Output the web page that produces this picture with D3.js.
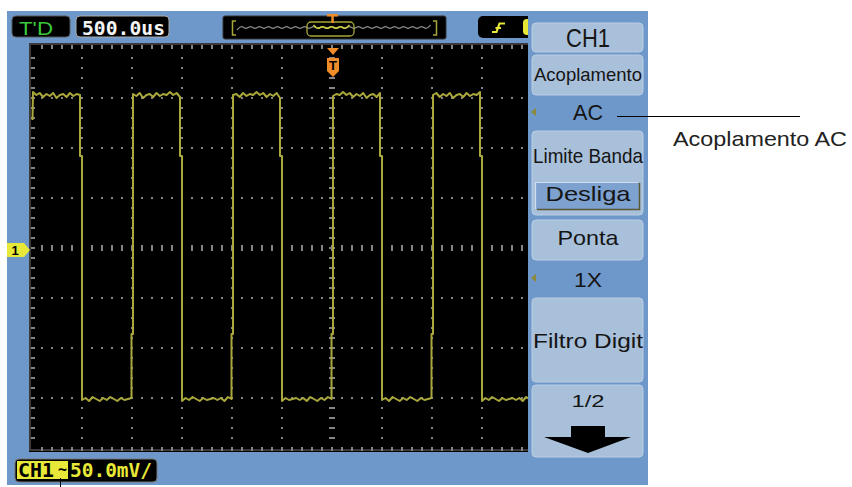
<html>
<head>
<script src="https://d3js.org/d3.v7.min.js"></script>
<style>
  body { margin: 0; background: #fff; }
  text { font-family: "Liberation Sans", Arial, sans-serif; }
  .mono { font-family: "DejaVu Sans Mono", monospace; font-weight: bold; }
</style>
</head>
<body>
<script>
// trace data: times in ms (trigger at 0), levels in mV
var riseTimes = [-3.0, -2.0, -1.0, 0.0, 1.0];
var fallTimes = [-2.5, -1.5, -0.5, 0.5, 1.5];
var traceEnd = 1.98;
var highLevel = 152;
var lowLevel = -150;
var fallKink = 92;     // small step seen on the falling edges
var riseKink = -86;    // small step seen on the rising edges
var startLevel = 128;  // trace enters the screen half way up the first edge
var highRipple = [4, 1, 3, -1, 2, 0, 3, -2, 1, 2, -1, 3, 0, 2, 1];
var lowRipple = [-2, 0, -3, 1, -1, -3, 0, -2, 1, -1, -3, 0, -2, -1, 0];

// screen labels
var timeBase = "500.0us";
var runLabel = "T'D";
var chLabel = "CH1";
var voltsDiv = "50.0mV/";
var menuLabels = ["CH1", "Acoplamento", "AC", "Limite Banda", "Desliga", "Ponta", "1X", "Filtro Digit", "1/2"];
var calloutLabel = "Acoplamento AC";

var bezel = "#6f98ca", boxFill = "#a9c0da", traceColor = "#aaa83c",
    yellow = "#e8e838", orange = "#f08c2a", dotColor = "#858585";

var svg = d3.select("body").append("svg")
  .attr("width", 852)
  .attr("height", 487);

// scope bezel
svg.append("rect").attr("x", 7).attr("y", 11).attr("width", 641).attr("height", 474).attr("fill", bezel);

// scales: 12 x 0.5 ms divisions, 8 x 50 mV divisions
var x = d3.scaleLinear().domain([-3, 3]).range([32, 632]);
var y = d3.scaleLinear().domain([-200, 200]).range([448, 48]);

// black screen
svg.append("rect").attr("x", 29).attr("y", 43).attr("width", 500).attr("height", 409).attr("fill", "#000");
svg.append("defs").append("clipPath").attr("id", "scr")
  .append("rect").attr("x", 29).attr("y", 43).attr("width", 499).attr("height", 409);

var grid = svg.append("g").attr("clip-path", "url(#scr)");

grid.append("rect")
  .attr("x", 30).attr("y", 44).attr("width", 620).attr("height", 406)
  .attr("fill", "none").attr("stroke", "#3a3a3a").attr("stroke-width", 2);

var minorT = d3.range(-29, 30).map(function (i) { return i / 10; });
var minorV = d3.range(-19, 20).map(function (i) { return i * 10; });
var majorT = d3.range(-5, 6).filter(function (i) { return i != 0; }).map(function (i) { return i / 2; });
var majorV = [-150, -100, -50, 50, 100, 150];

// dotted division lines
majorT.forEach(function (t) {
  minorV.forEach(function (v) {
    grid.append("rect").attr("x", x(t) - 1).attr("y", y(v) - 1)
      .attr("width", 2).attr("height", 2).attr("fill", dotColor);
  });
});
majorV.forEach(function (v) {
  minorT.forEach(function (t) {
    grid.append("rect").attr("x", x(t) - 1).attr("y", y(v) - 1)
      .attr("width", 2).attr("height", 2).attr("fill", dotColor);
  });
});

// centre axes with ticks
minorT.forEach(function (t) {
  grid.append("rect").attr("x", x(t) - 1).attr("y", y(0) - 3).attr("width", 2).attr("height", 6).attr("fill", dotColor);
  grid.append("rect").attr("x", x(t) - 1).attr("y", 45).attr("width", 2).attr("height", 4).attr("fill", dotColor);
  grid.append("rect").attr("x", x(t) - 1).attr("y", 447).attr("width", 2).attr("height", 4).attr("fill", dotColor);
});
minorV.forEach(function (v) {
  grid.append("rect").attr("x", x(0) - 3).attr("y", y(v) - 1).attr("width", 6).attr("height", 2).attr("fill", dotColor);
  grid.append("rect").attr("x", 31).attr("y", y(v) - 1).attr("width", 4).attr("height", 2).attr("fill", dotColor);
});

// build the trace from the edge lists
var pts = [];
riseTimes.forEach(function (r, i) {
  var f = fallTimes[i];
  var next = i + 1 < riseTimes.length ? riseTimes[i + 1] : traceEnd;
  if (i == 0) {
    pts.push([r + 0.005, startLevel]);
  } else {
    pts.push([r - 0.005, riseKink]);
    pts.push([r + 0.01, riseKink]);
  }
  var a = r + 0.01, b = f - 0.02;
  highRipple.forEach(function (d, k) {
    var rv = highRipple[(k + i * 4) % highRipple.length];
    pts.push([a + (b - a) * k / (highRipple.length - 1), highLevel + rv]);
  });
  pts.push([f - 0.02, fallKink]);
  pts.push([f, fallKink]);
  var c = f, e = next - 0.005;
  lowRipple.forEach(function (d, k) {
    var rv = lowRipple[(k + i * 5) % lowRipple.length];
    pts.push([c + (e - c) * k / (lowRipple.length - 1), lowLevel + rv]);
  });
});

var line = d3.line().x(function (d) { return x(d[0]); }).y(function (d) { return y(d[1]); });
grid.append("path").datum(pts)
  .attr("fill", "none").attr("stroke", traceColor).attr("stroke-width", 2)
  .attr("stroke-linejoin", "round").attr("d", line);

// trigger position marker on the grid
svg.append("path").attr("d", "M327,48 L339,48 L333,55 Z").attr("fill", orange);
svg.append("path").attr("d", "M327,58 L339,58 L339,71 L333,77 L327,71 Z").attr("fill", orange);
svg.append("text").attr("x", 333).attr("y", 70).attr("text-anchor", "middle")
  .attr("font-size", 13).attr("font-weight", "bold").attr("fill", "#000").text("T");

// channel 1 ground marker
svg.append("path").attr("d", "M7,243 L24,243 L30,250 L24,257 L7,257 Z").attr("fill", yellow);
svg.append("text").attr("x", 15).attr("y", 255).attr("text-anchor", "middle")
  .attr("font-size", 13).attr("font-weight", "bold").attr("fill", "#000").text("1");

// top status bar
svg.append("rect").attr("x", 12).attr("y", 16).attr("width", 58).attr("height", 21).attr("rx", 4)
  .attr("fill", "#000").attr("stroke", "#555");
svg.append("text").attr("x", 19).attr("y", 35).attr("font-size", 19).attr("fill", "#3cc83c")
  .attr("textLength", 34).attr("lengthAdjust", "spacingAndGlyphs").text(runLabel);
svg.append("rect").attr("x", 76).attr("y", 16).attr("width", 93).attr("height", 21).attr("rx", 4)
  .attr("fill", "#000").attr("stroke", "#aaa");
svg.append("text").attr("class", "mono").attr("x", 82).attr("y", 35).attr("font-size", 19).attr("fill", "#f4f4f4")
  .attr("textLength", 83).attr("lengthAdjust", "spacingAndGlyphs").text(timeBase);

// memory bar
svg.append("rect").attr("x", 223).attr("y", 16).attr("width", 223).attr("height", 23).attr("rx", 2)
  .attr("fill", "#000").attr("stroke", "#333");
var zig = d3.range(0, 44).map(function (i) { return [237 + i * 4.5, i % 2 ? 25 : 30]; });
var zigLine = d3.line().curve(d3.curveBasis);
svg.append("path").attr("d", zigLine(zig)).attr("fill", "none").attr("stroke", "#8a8a8a").attr("stroke-width", 1.3);
svg.append("path").attr("d", zigLine(zig.filter(function (p) { return p[0] > 309 && p[0] < 353; })))
  .attr("fill", "none").attr("stroke", "#d0d040").attr("stroke-width", 1.5);
svg.append("rect").attr("x", 307).attr("y", 22).attr("width", 47).attr("height", 14).attr("rx", 4)
  .attr("fill", "none").attr("stroke", "#a8a838").attr("stroke-width", 1.3);
svg.append("path").attr("d", "M236,21 H232.5 V35 H236 M433,21 H436.5 V35 H433")
  .attr("fill", "none").attr("stroke", "#a8a838").attr("stroke-width", 1.5);
svg.append("rect").attr("x", 327).attr("y", 14).attr("width", 11).attr("height", 2.5).attr("fill", orange);
svg.append("rect").attr("x", 331.3).attr("y", 14).attr("width", 2.5).attr("height", 9).attr("fill", orange);

// trigger box
svg.append("rect").attr("x", 478).attr("y", 16).attr("width", 60).attr("height", 22).attr("rx", 5).attr("fill", "#000");
svg.append("rect").attr("x", 523).attr("y", 19).attr("width", 20).attr("height", 16).attr("rx", 4).attr("fill", yellow);
svg.append("path").attr("d", "M492,32 H496.5 L499.5,23.5 H505 M495.5,28 H501")
  .attr("fill", "none").attr("stroke", yellow).attr("stroke-width", 2.2);

// bottom channel readout
svg.append("rect").attr("x", 15).attr("y", 459).attr("width", 142).attr("height", 23).attr("rx", 4)
  .attr("fill", "#000").attr("stroke", "#777");
svg.append("rect").attr("x", 17).attr("y", 461).attr("width", 51).attr("height", 18).attr("fill", yellow);
svg.append("text").attr("class", "mono").attr("x", 18).attr("y", 477).attr("font-size", 19).attr("fill", "#000")
  .attr("textLength", 36).attr("lengthAdjust", "spacingAndGlyphs").text(chLabel);
svg.append("text").attr("class", "mono").attr("x", 62.5).attr("y", 475).attr("text-anchor", "middle")
  .attr("font-size", 15).attr("fill", "#000").text("~");
svg.append("text").attr("class", "mono").attr("x", 70).attr("y", 477).attr("font-size", 19).attr("fill", yellow)
  .attr("textLength", 82).attr("lengthAdjust", "spacingAndGlyphs").text(voltsDiv);

// soft-key menu
svg.append("rect").attr("x", 528).attr("y", 11).attr("width", 120).attr("height", 474).attr("fill", bezel);

function menuBox(y0, y1) {
  svg.append("rect").attr("x", 532).attr("y", y0).attr("width", 111).attr("height", y1 - y0).attr("rx", 4)
    .attr("fill", boxFill).attr("stroke", "#b9cde4").attr("stroke-width", 1);
}
function menuText(label, yb, size, width) {
  svg.append("text").attr("x", 588).attr("y", yb).attr("text-anchor", "middle")
    .attr("font-size", size).attr("fill", "#151515")
    .attr("textLength", width).attr("lengthAdjust", "spacingAndGlyphs").text(label);
}
function selArrow(yc) {
  svg.append("path").attr("d", "M531," + yc + " L536," + (yc - 4) + " L536," + (yc + 4) + " Z").attr("fill", "#8c8a3a");
}

menuBox(23, 52);   menuText(menuLabels[0], 47, 25, 44);
menuBox(55, 95);   menuText(menuLabels[1], 81, 19, 108);
selArrow(112);     menuText(menuLabels[2], 120, 22, 30);
menuBox(131, 215); menuText(menuLabels[3], 163, 21, 110);
svg.append("rect").attr("x", 535).attr("y", 182).attr("width", 105).attr("height", 28).attr("rx", 3)
  .attr("fill", "#7ea2cf");
svg.append("path").attr("d", "M537,209.5 H639.5 V183").attr("fill", "none").attr("stroke", "#5c5632").attr("stroke-width", 1.5);
svg.append("path").attr("d", "M535.5,209 V182.5 H638").attr("fill", "none").attr("stroke", "#d0dded").attr("stroke-width", 1.2);
menuText(menuLabels[4], 201, 21, 85);
menuBox(220, 260); menuText(menuLabels[5], 245, 21, 61);
selArrow(278);     menuText(menuLabels[6], 287, 21, 28);
menuBox(298, 382); menuText(menuLabels[7], 348, 21, 110);
menuBox(385, 457); menuText(menuLabels[8], 407, 17, 33);

// page-down arrow
svg.append("path").attr("d", "M571,426 H605 V437 H631 L588,453 L544,437 H571 Z").attr("fill", "#000");

// callouts
svg.append("line").attr("x1", 617).attr("x2", 800).attr("y1", 116.5).attr("y2", 116.5)
  .attr("stroke", "#000").attr("stroke-width", 1);
svg.append("line").attr("x1", 60.5).attr("x2", 60.5).attr("y1", 478).attr("y2", 487)
  .attr("stroke", "#000").attr("stroke-width", 1);
svg.append("text").attr("x", 673).attr("y", 146)
  .style("font-family", "'Liberation Sans Narrow', 'Liberation Sans', Arial, sans-serif")
  .attr("font-size", 21).attr("fill", "#222")
  .attr("textLength", 174).attr("lengthAdjust", "spacingAndGlyphs").text(calloutLabel);
</script>
</body>
</html>
